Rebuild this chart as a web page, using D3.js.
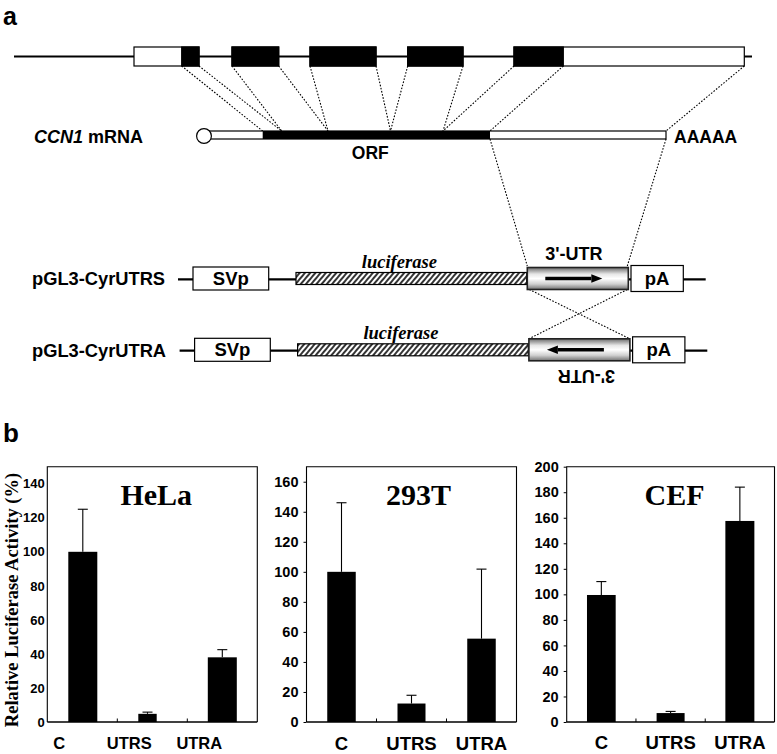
<!DOCTYPE html>
<html><head><meta charset="utf-8">
<script src="https://cdn.jsdelivr.net/npm/d3@7"></script>
<style>body{margin:0;background:#fff}svg{display:block}</style>
</head><body>
<svg id="fig" width="777" height="754"></svg>
<script>
// ================= DATA =================
// Panel a: schematic positions (schematic units along the drawing axis)
const genomeLine = [14, 752];
const exonStarts = [134, 232, 310, 407.7, 514];
const exonEnds   = [199, 278.7, 376, 463, 744.3];
const genomeCds  = [181.7, 563.3];
const mrnaSpan   = [204, 666];
const mrnaCds    = [262.7, 490];
// genome boundary -> mRNA position (dotted connectors)
const linkFrom = [181.7, 199, 232, 278.7, 310, 376, 407.7, 463, 514, 563.3, 744.3];
const linkTo   = [262.7, 281.7, 281.7, 328, 328, 390.5, 390.5, 443, 443, 490, 666];
const constructNames = ["pGL3-CyrUTRS", "pGL3-CyrUTRA"];
const constructOrient = [1, -1];
const constructParts = ["SVp", "luciferase", "3'-UTR", "pA"];
const partStart = [193, 296, 527.3, 631];
const partEnd   = [268.7, 526.7, 628.3, 683.3];
const backbone  = [178, 705.7];

// Panel b: bar charts
const categories = ["C", "UTRS", "UTRA"];
const cellLines  = ["HeLa", "293T", "CEF"];
const helaValues = [100, 4.8, 38];
const helaErrors = [25, 1, 4.5];
const t293Values = [100, 12.3, 55.5];
const t293Errors = [46, 5.5, 46.3];
const cefValues  = [99.5, 7, 157.5];
const cefErrors  = [10.5, 1.3, 26.5];
const helaTicks  = [0, 20, 40, 60, 80, 100, 120, 140];
const t293Ticks  = [0, 20, 40, 60, 80, 100, 120, 140, 160];
const cefTicks   = [0, 20, 40, 60, 80, 100, 120, 140, 160, 180, 200];
const yMaxes     = [150, 170, 200];
const yLabel = "Relative Luciferase Activity (%)";

// ================= STYLE / LAYOUT =================
const SANS = "'Liberation Sans', Arial, Helvetica, sans-serif";
const SERIF = "'Liberation Serif', 'Times New Roman', serif";
const svg = d3.select("#fig");
const defs = svg.append("defs");

// hatch pattern for luciferase
const pat = defs.append("pattern").attr("id", "hatch").attr("patternUnits", "userSpaceOnUse")
  .attr("width", 4).attr("height", 10).attr("patternTransform", "rotate(40)");
pat.append("rect").attr("width", 4).attr("height", 10).attr("fill", "#fff");
pat.append("line").attr("x1", 1).attr("x2", 1).attr("y1", 0).attr("y2", 10)
  .attr("stroke", "#000").attr("stroke-width", 1.6);
// cylinder gradient for 3'-UTR
const grad = defs.append("linearGradient").attr("id", "cyl").attr("x1", 0).attr("x2", 0).attr("y1", 0).attr("y2", 1);
[[0, "#6a6a6a"], [0.3, "#e6e6e6"], [0.5, "#ffffff"], [0.75, "#d0d0d0"], [1, "#707070"]]
  .forEach(([o, c]) => grad.append("stop").attr("offset", o).attr("stop-color", c));

const X = d3.scaleLinear().domain([0, 777]).range([0, 777]); // schematic axis

// ---------- Panel a ----------
svg.append("text").attr("x", 3).attr("y", 25).attr("font-family", SANS).attr("font-weight", "bold")
  .attr("font-size", 25).text("a");

const gY = d3.scaleLinear().domain([0, 1]).range([47, 66]); // exon box top/bottom
const gA = svg.append("g");
gA.append("line").attr("x1", X(genomeLine[0])).attr("x2", X(genomeLine[1]))
  .attr("y1", 56.5).attr("y2", 56.5).attr("stroke", "#000").attr("stroke-width", 2.2);
exonStarts.forEach((s, i) => {
  const e = exonEnds[i];
  gA.append("rect").attr("x", X(s)).attr("y", gY(0)).attr("width", X(e) - X(s)).attr("height", gY(1) - gY(0))
    .attr("fill", "#fff").attr("stroke", "#000").attr("stroke-width", 1.2);
  const cs = Math.max(s, genomeCds[0]), ce = Math.min(e, genomeCds[1]);
  if (ce > cs) gA.append("rect").attr("x", X(cs)).attr("y", gY(0)).attr("width", X(ce) - X(cs))
    .attr("height", gY(1) - gY(0)).attr("fill", "#000").attr("stroke", "#000").attr("stroke-width", 1.2);
});
// dotted links genome -> mRNA
linkFrom.forEach((f, i) => {
  gA.append("line").attr("x1", X(f)).attr("y1", gY(1)).attr("x2", X(linkTo[i])).attr("y2", 131)
    .attr("stroke", "#000").attr("stroke-width", 1.1).attr("stroke-dasharray", "1.6,1.6");
});
// mRNA
gA.append("rect").attr("x", X(mrnaSpan[0])).attr("y", 131).attr("width", X(mrnaSpan[1]) - X(mrnaSpan[0]))
  .attr("height", 8).attr("fill", "#fff").attr("stroke", "#000").attr("stroke-width", 1.2);
gA.append("rect").attr("x", X(mrnaCds[0])).attr("y", 131).attr("width", X(mrnaCds[1]) - X(mrnaCds[0]))
  .attr("height", 8).attr("fill", "#000");
gA.append("circle").attr("cx", X(mrnaSpan[0])).attr("cy", 136).attr("r", 7.4)
  .attr("fill", "#fff").attr("stroke", "#000").attr("stroke-width", 1.2);
const mt = gA.append("text").attr("x", 34).attr("y", 143).attr("font-family", SANS)
  .attr("font-weight", "bold").attr("font-size", 18);
mt.append("tspan").attr("font-style", "italic").text("CCN1");
mt.append("tspan").text(" mRNA");
gA.append("text").attr("x", X((mrnaCds[0] + mrnaCds[1]) / 2 - 6)).attr("y", 159).attr("text-anchor", "middle")
  .attr("font-family", SANS).attr("font-weight", "bold").attr("font-size", 17.5).text("ORF");
gA.append("text").attr("x", X(mrnaSpan[1]) + 8).attr("y", 142.5).attr("font-family", SANS)
  .attr("font-weight", "bold").attr("font-size", 17.5).text("AAAAA");
// mRNA 3'UTR -> construct
gA.append("line").attr("x1", X(mrnaCds[1])).attr("y1", 139).attr("x2", X(partStart[2])).attr("y2", 266)
  .attr("stroke", "#000").attr("stroke-width", 1.1).attr("stroke-dasharray", "1.6,1.6");
gA.append("line").attr("x1", X(mrnaSpan[1])).attr("y1", 139).attr("x2", X(partEnd[2]) - 1).attr("y2", 266)
  .attr("stroke", "#000").attr("stroke-width", 1.1).attr("stroke-dasharray", "1.6,1.6");

// constructs
const rowY = [278.5, 349.8];
const rowShift = [0, 1.6];
const partH = [23, 12, 22, 26];
// crossing dotted lines between the two UTR boxes
gA.append("line").attr("x1", X(partStart[2]) + 2).attr("y1", rowY[0] + 11).attr("x2", X(partEnd[2]) + rowShift[1])
  .attr("y2", rowY[1] - 11).attr("stroke", "#000").attr("stroke-width", 1.1).attr("stroke-dasharray", "1.6,1.6");
gA.append("line").attr("x1", X(partEnd[2]) - 1).attr("y1", rowY[0] + 11).attr("x2", X(partStart[2]) + rowShift[1])
  .attr("y2", rowY[1] - 11).attr("stroke", "#000").attr("stroke-width", 1.1).attr("stroke-dasharray", "1.6,1.6");

constructNames.forEach((name, r) => {
  const cy = rowY[r], sh = rowShift[r];
  const g = gA.append("g").attr("transform", `translate(${sh},0)`);
  g.append("line").attr("x1", X(backbone[0])).attr("x2", X(backbone[1])).attr("y1", cy + 0.8).attr("y2", cy + 0.8)
    .attr("stroke", "#000").attr("stroke-width", 2.2);
  constructParts.forEach((p, k) => {
    const x0 = X(partStart[k]), x1 = X(partEnd[k]), h = partH[k];
    const fill = k === 1 ? "url(#hatch)" : k === 2 ? "url(#cyl)" : "#fff";
    g.append("rect").attr("x", x0).attr("y", cy - h / 2).attr("width", x1 - x0).attr("height", h)
      .attr("fill", fill).attr("stroke", k === 2 ? "#222" : "#000").attr("stroke-width", k === 2 ? 1.6 : 1.2);
    if (k === 0 || k === 3) {
      g.append("text").attr("x", (x0 + x1) / 2).attr("y", cy + 6.5).attr("text-anchor", "middle")
        .attr("font-family", SANS).attr("font-weight", "bold").attr("font-size", 18.5).text(p);
    }
    if (k === 1) {
      g.append("text").attr("x", (x0 + x1) / 2 - 12).attr("y", cy - h / 2 - 4.5).attr("text-anchor", "middle")
        .attr("font-family", SERIF).attr("font-weight", "bold").attr("font-style", "italic")
        .attr("font-size", 18.5).text(p);
    }
    if (k === 2) {
      const mid = (x0 + x1) / 2 - 4, half = 28.5, dir = constructOrient[r];
      const tip = mid + dir * half, tail = mid - dir * half, hb = tip - dir * 11;
      g.append("line").attr("x1", tail).attr("x2", hb).attr("y1", cy).attr("y2", cy)
        .attr("stroke", "#000").attr("stroke-width", 3.6);
      g.append("path").attr("d", `M${tip},${cy} L${hb},${cy - 4.2} L${hb},${cy + 4.2} Z`).attr("fill", "#000");
      if (dir > 0) {
        g.append("text").attr("x", mid).attr("y", cy - h / 2 - 8).attr("text-anchor", "middle")
          .attr("font-family", SANS).attr("font-weight", "bold").attr("font-size", 18).text(p);
      } else {
        g.append("text").attr("transform", `translate(${mid + 11},${cy + h / 2 + 15.5}) rotate(180)`)
          .attr("text-anchor", "middle").attr("dominant-baseline", "central")
          .attr("font-family", SANS).attr("font-weight", "bold").attr("font-size", 18).text(p);
      }
    }
  });
  gA.append("text").attr("x", 32).attr("y", cy + 6.8).attr("font-family", SANS).attr("font-weight", "bold")
    .attr("font-size", 18.3).text(name);
});

// ---------- Panel b ----------
svg.append("text").attr("x", 3).attr("y", 442).attr("font-family", SANS).attr("font-weight", "bold")
  .attr("font-size", 26).text("b");

const allValues = [helaValues, t293Values, cefValues];
const allErrors = [helaErrors, t293Errors, cefErrors];
const allTicks = [helaTicks, t293Ticks, cefTicks];
const frameX = [[47.3, 257.3], [306.5, 516.5], [566.7, 774.5]];
const frameY = [722, 466.7];
const tickFont = [13, 14.5, 14.5];
const tickSz = [0, 3, 3];
const tickPad = [2.5, 5, 5];
const labelFont = [16.5, 18.5, 18.5];
const labelShift = [-23, 0, 0];
const labelY = [748.5, 750, 749];
const barW = [[29, 18.4, 29], [28.5, 28, 28.5], [28.7, 28, 29]];
const barShift = [[0.5, -4.8, 0], [0, 0, 0], [0, 0, 0]];

cellLines.forEach((cl, i) => {
  const [x0, x1] = frameX[i];
  const x = d3.scaleBand().domain(categories).range([x0, x1]).padding(0);
  const y = d3.scaleLinear().domain([0, yMaxes[i]]).range(frameY);
  const g = svg.append("g");
  // frame
  g.append("path").attr("d", `M${x0},${y(0)} V${y(yMaxes[i])} H${x1} V${y(0)}`)
    .attr("fill", "none").attr("stroke", "#000").attr("stroke-width", 1.1);
  // y axis
  const ya = g.append("g").attr("transform", `translate(${x0},0)`)
    .call(d3.axisLeft(y).tickValues(allTicks[i]).tickSize(tickSz[i]).tickPadding(tickPad[i]).tickFormat(d3.format("d")));
  ya.select(".domain").remove();
  ya.attr("font-size", tickFont[i]).attr("font-family", SANS);
  ya.selectAll("text").attr("font-family", SANS).attr("font-weight", "bold").attr("font-size", tickFont[i]).attr("fill", "#000");
  ya.selectAll("line").attr("stroke", "#000");
  // x axis line with boundary ticks
  const xa = g.append("g").attr("transform", `translate(0,${y(0)})`)
    .call(d3.axisBottom(x).tickSize(0).tickFormat(""));
  xa.select(".domain").attr("d", `M${x0},0H${x1}`).attr("stroke", "#000").attr("stroke-width", 1.3);
  categories.slice(1).forEach(c => {
    g.append("line").attr("x1", x(c)).attr("x2", x(c)).attr("y1", y(0)).attr("y2", y(0) - 3.5)
      .attr("stroke", "#000").attr("stroke-width", 1);
  });
  // bars + error bars
  categories.forEach((c, k) => {
    const v = allValues[i][k], e = allErrors[i][k];
    const cx = x(c) + x.bandwidth() / 2 + barShift[i][k];
    const w = barW[i][k];
    g.append("line").attr("x1", cx).attr("x2", cx).attr("y1", y(v)).attr("y2", y(v + e))
      .attr("stroke", "#000").attr("stroke-width", 1.1);
    g.append("line").attr("x1", cx - 5).attr("x2", cx + 5).attr("y1", y(v + e)).attr("y2", y(v + e))
      .attr("stroke", "#000").attr("stroke-width", 1.1);
    g.append("rect").attr("x", cx - w / 2).attr("y", y(v)).attr("width", w).attr("height", y(0) - y(v))
      .attr("fill", "#000");
    g.append("text").attr("x", x(c) + x.bandwidth() / 2 + labelShift[i]).attr("y", labelY[i])
      .attr("text-anchor", "middle").attr("font-family", SANS).attr("font-weight", "bold")
      .attr("font-size", labelFont[i]).text(c);
  });
  // title
  g.append("text").attr("x", (x0 + x1) / 2 + [4, 7, 4][i]).attr("y", 505)
    .attr("text-anchor", "middle").attr("font-family", SERIF).attr("font-weight", "bold")
    .attr("font-size", 30).text(cl);
});
svg.append("text").attr("transform", "translate(18,600) rotate(-90)").attr("text-anchor", "middle")
  .attr("font-family", SERIF).attr("font-weight", "bold").attr("font-size", 18.5).text(yLabel);
</script>
</body></html>
